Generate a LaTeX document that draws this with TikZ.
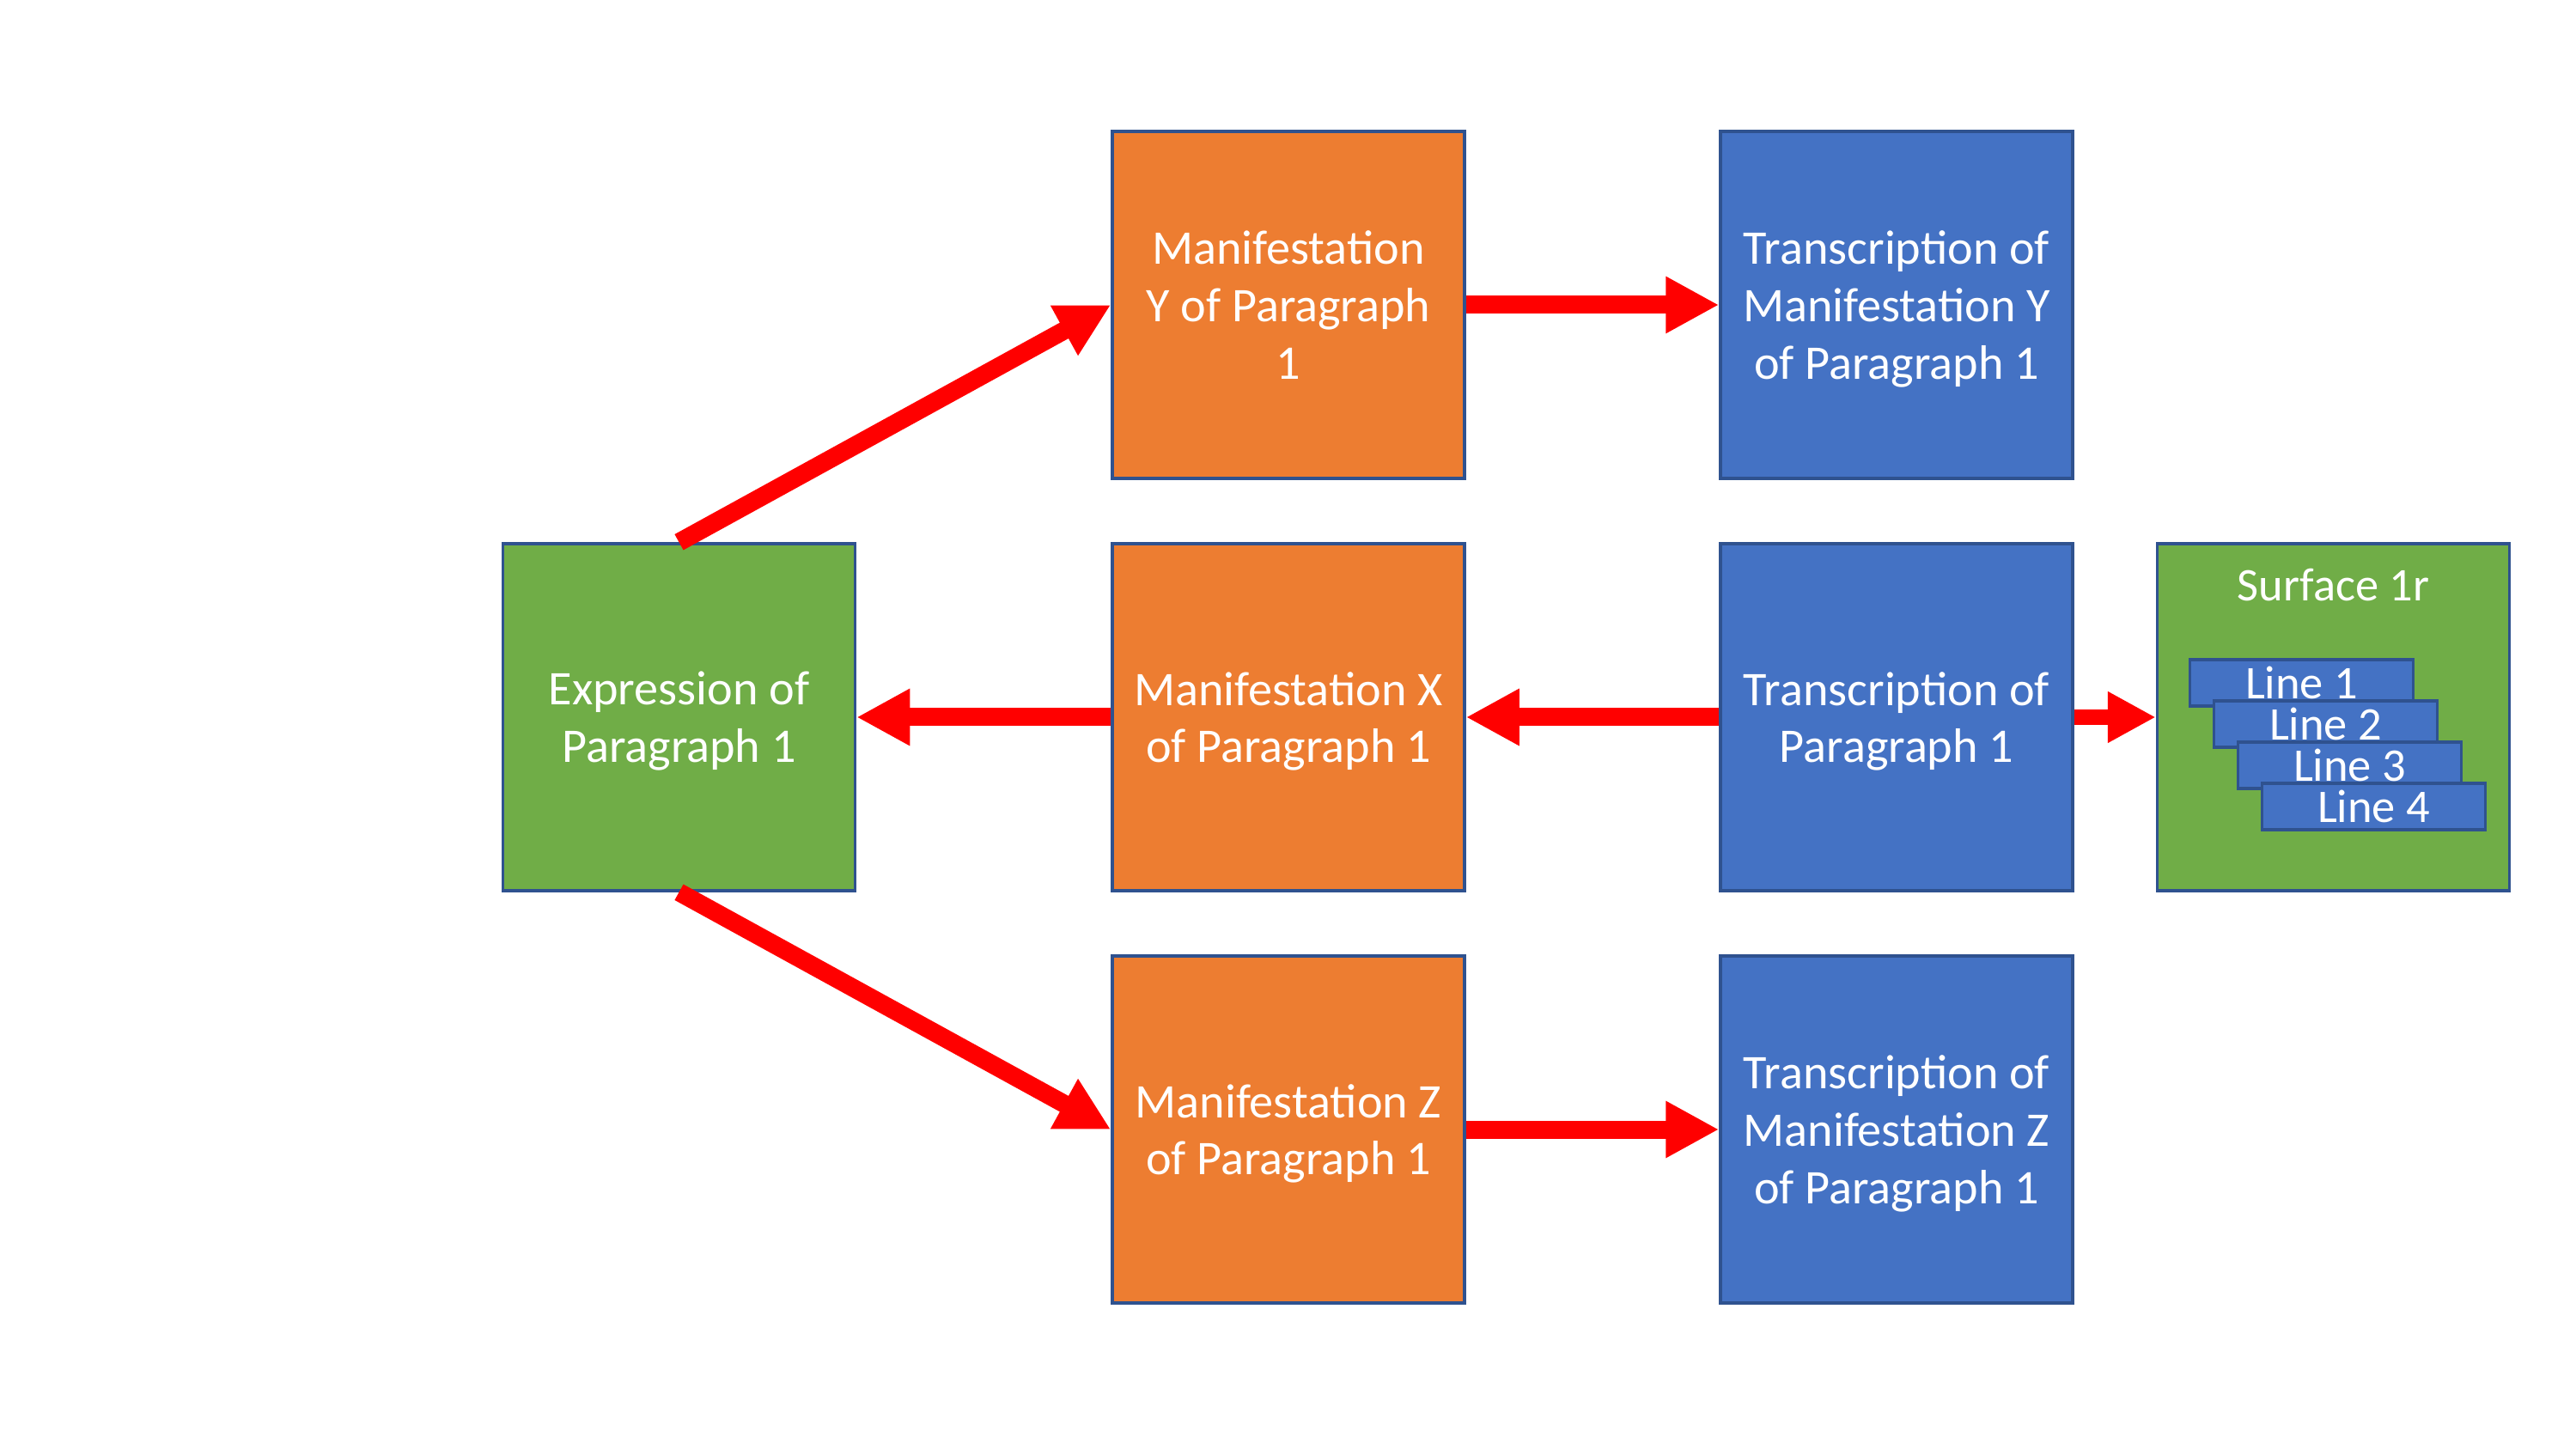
\documentclass[tikz,border=0pt]{standalone}
\usepackage{fontspec}
\setmainfont{Carlito}
\usetikzlibrary{positioning,calc,arrows.meta}
\definecolor{exprgreen}{RGB}{112,173,71}
\definecolor{maniorange}{RGB}{237,125,49}
\definecolor{transblue}{RGB}{68,114,196}
\definecolor{boxedge}{RGB}{47,82,143}
\definecolor{flowred}{RGB}{255,0,0}

\begin{document}
\begin{tikzpicture}[
  x=1cm, y=1cm,
  card/.style={draw=boxedge, line width=1pt, minimum width=4.1cm,
               minimum height=4.04cm, inner sep=0pt, align=center,
               text=white, font=\fontsize{16}{19}\selectfont, text depth=0pt},
  expr/.style={card, fill=exprgreen},
  mani/.style={card, fill=maniorange},
  trans/.style={card, fill=transblue},
  linebox/.style={draw=boxedge, line width=1pt, fill=transblue,
                  minimum width=2.6cm, minimum height=0.54cm, inner sep=0pt,
                  text=white, font=\fontsize{15.5}{18}\selectfont},
  flow/.style={-{Triangle[length=0.62cm, width=0.62cm]}, line width=0.21cm, flowred},
  smallflow/.style={-{Triangle[length=0.56cm, width=0.56cm]}, line width=0.18cm, flowred},
]

% page
\fill[white] (0,0) rectangle (29.99,-16.87);

% expression
\node[expr] (expr) at (7.905,-8.35) {Expression of\\Paragraph 1};

% manifestations
\node[mani] (maniY) at (15.0,-3.55)  {Manifestation\\Y of Paragraph\\1};
\node[mani] (maniX) at (15.0,-8.35)  {Manifestation X\\of Paragraph 1};
\node[mani] (maniZ) at (15.0,-13.15) {Manifestation Z\\of Paragraph 1};

% transcriptions
\node[trans] (transY) at (22.08,-3.55)  {Transcription of\\Manifestation Y\\of Paragraph 1};
\node[trans] (transX) at (22.08,-8.35)  {Transcription of\\Paragraph 1};
\node[trans] (transZ) at (22.08,-13.15) {Transcription of\\Manifestation Z\\of Paragraph 1};

% surface with its lines
\node[expr] (surf) at (27.165,-8.35) {};
\node[anchor=base, text=white, font=\fontsize{15.5}{18}\selectfont]
  (surftitle) at ($(surf.north)+(0,-0.68)$) {Surface 1r};
\foreach \i in {1,...,4}
  \node[linebox] (line\i) at ($(surf.center)+({-0.37+0.28*(\i-1)},{0.40-0.48*(\i-1)})$) {Line \i};

% flows
\draw[flow] (expr.north) -- (maniY.west);
\draw[flow] (expr.south) -- (maniZ.west);
\draw[flow] (maniX.west) -- (expr.east);
\draw[flow] (transX.west) -- (maniX.east);
\draw[flow] (maniY.east) -- (transY.west);
\draw[flow] (maniZ.east) -- (transZ.west);
\draw[smallflow] (transX.east) -- (surf.west);

\end{tikzpicture}
\end{document}
